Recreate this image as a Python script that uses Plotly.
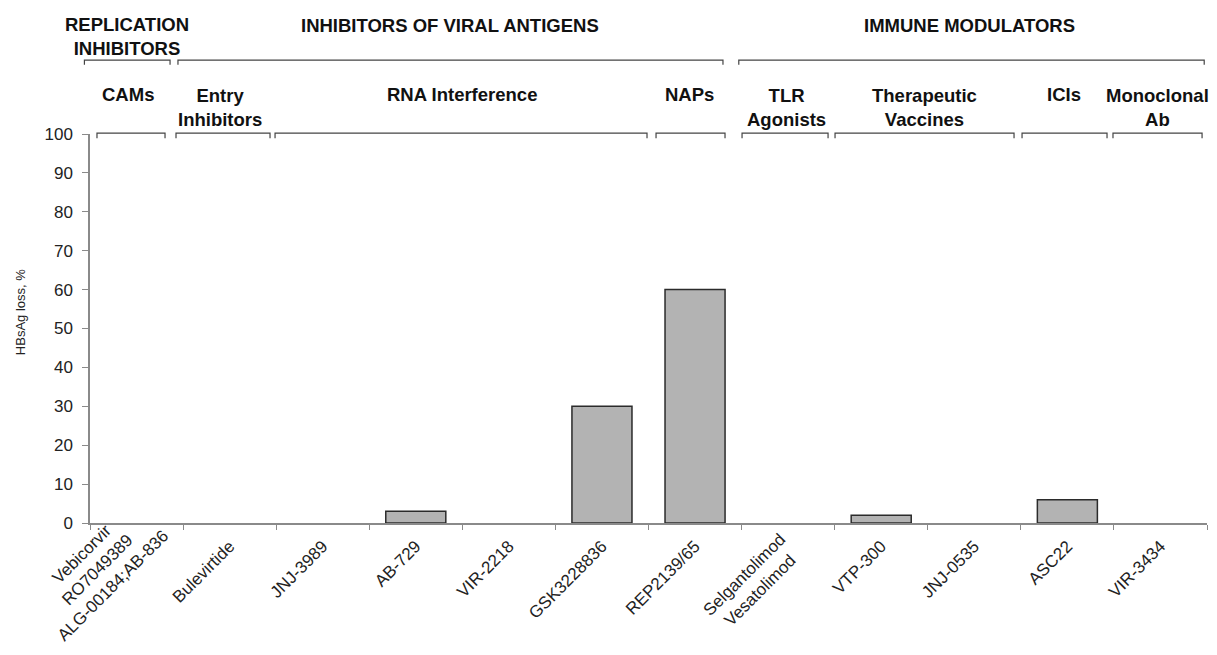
import plotly.graph_objects as go

# ---- data ----
categories = [
    "Vebicorvir<br>RO7049389<br>ALG-00184;AB-836",
    "Bulevirtide",
    "JNJ-3989",
    "AB-729",
    "VIR-2218",
    "GSK3228836",
    "REP2139/65",
    "Selgantolimod<br>Vesatolimod",
    "VTP-300",
    "JNJ-0535",
    "ASC22",
    "VIR-3434",
]
hbsag_loss = [0, 0, 0, 3, 0, 30, 60, 0, 2, 0, 6, 0]
y_ticks = [0, 10, 20, 30, 40, 50, 60, 70, 80, 90, 100]

# class labels (text, center index, start index, end index)
top_groups = ["REPLICATION<br>INHIBITORS", "INHIBITORS OF VIRAL ANTIGENS", "IMMUNE MODULATORS"]
top_centers = [-0.10, 3.37, 8.95]
top_starts = [-0.56, 0.445, 6.47]
top_ends = [0.36, 6.30, 11.47]

sub_groups = ["CAMs", "Entry<br>Inhibitors", "RNA Interference", "NAPs",
              "TLR<br>Agonists", "Therapeutic<br>Vaccines", "ICIs", "Monoclonal<br>Ab"]
sub_centers = [-0.09, 0.90, 3.50, 5.94, 6.98, 8.47, 9.96, 10.97]
sub_starts = [-0.425, 0.424, 1.488, 5.581, 6.505, 7.504, 9.513, 10.49]
sub_ends = [0.306, 1.434, 5.484, 6.322, 7.429, 9.427, 10.426, 11.447]

FONT = "Arial, 'Liberation Sans', sans-serif"
n = len(categories)
positions = list(range(n))           # category slots on the x axis
boundaries = [i - 0.5 for i in range(n + 1)]

fig = go.Figure(
    go.Bar(
        x=positions,
        y=hbsag_loss,
        customdata=[c.replace("<br>", " / ") for c in categories],
        hovertemplate="%{customdata}: %{y}%<extra></extra>",
        marker=dict(color="#b3b3b3",
                    line=dict(color="#2b2b2b",
                              width=[1.5 if v > 0 else 0 for v in hbsag_loss])),
    )
)

def idx_to_paper(i):
    return (i + 0.5) / n

shapes = []
annotations = []

# top row brackets
for s, e in zip(top_starts, top_ends):
    x0, x1 = idx_to_paper(s), idx_to_paper(e)
    shapes.append(dict(type="path", xref="paper", yref="paper",
                       path=f"M {x0},1.178 L {x0},1.190 L {x1},1.190 L {x1},1.178",
                       line=dict(color="#444444", width=1.2)))
for t, c in zip(top_groups, top_centers):
    two = "<br>" in t
    annotations.append(dict(x=c, xref="x", y=1.251 if two else 1.279, yref="paper",
                            text=f"<b>{t}</b>", showarrow=False, yanchor="middle",
                            font=dict(family=FONT, size=18.5, color="#111111")))

# second row brackets
for s, e in zip(sub_starts, sub_ends):
    x0, x1 = idx_to_paper(s), idx_to_paper(e)
    shapes.append(dict(type="path", xref="paper", yref="paper",
                       path=f"M {x0},0.989 L {x0},1.002 L {x1},1.002 L {x1},0.989",
                       line=dict(color="#444444", width=1.2)))
for t, c in zip(sub_groups, sub_centers):
    two = "<br>" in t
    annotations.append(dict(x=c, xref="x", y=1.069 if two else 1.101, yref="paper",
                            text=f"<b>{t}</b>", showarrow=False, yanchor="middle",
                            font=dict(family=FONT, size=18.5, color="#111111")))

# multi-line category labels: drawn as rotated, centred text blocks
tick_text = []
for i, c in enumerate(categories):
    if "<br>" in c:
        tick_text.append("")
        nlines = c.count("<br>") + 1
        annotations.append(dict(x=i, xref="x", y=0, yref="paper",
                                xshift=-40 if nlines == 3 else -36,
                                yshift=-47 if nlines == 3 else -59,
                                text=c, textangle=-45, align="center",
                                xanchor="center", yanchor="middle", showarrow=False,
                                font=dict(family=FONT, size=17, color="#222222")))
    else:
        tick_text.append(c)

# y-axis title
annotations.append(dict(x=-0.0627, xref="paper", y=0.542, yref="paper",
                        xanchor="center", yanchor="middle",
                        text="HBsAg loss, %", textangle=-90, showarrow=False,
                        font=dict(family=FONT, size=13, color="#222222")))

# the page adds an 8px body margin, so the figure is 8px smaller than the window
fig.update_layout(
    width=1209, height=647,
    margin=dict(l=82, r=10, t=126, b=132, autoexpand=False),
    plot_bgcolor="white", paper_bgcolor="white",
    bargap=0.355,
    showlegend=False,
    font=dict(family=FONT, color="#222222"),
    shapes=shapes,
    annotations=annotations,
)
fig.update_xaxes(
    automargin=False,
    range=[-0.5, n - 0.5],
    tickmode="array", tickvals=positions, ticktext=tick_text,
    tickangle=-45,
    tickfont=dict(family=FONT, size=17, color="#222222"),
    showline=True, linecolor="#8a8a8a", linewidth=1.5,
    ticks="outside", ticklen=5, tickcolor="rgba(0,0,0,0)",
    minor=dict(tickmode="array", tickvals=boundaries, ticks="outside",
               ticklen=5, tickcolor="#8a8a8a", showgrid=False),
    showgrid=False, zeroline=False,
)
fig.update_yaxes(
    automargin=False,
    range=[0, 100],
    tickvals=y_ticks,
    tickfont=dict(family=FONT, size=17, color="#222222"),
    showline=True, linecolor="#8a8a8a", linewidth=1.5,
    ticks="outside", ticklen=6, tickcolor="#8a8a8a",
    ticklabelstandoff=6,
    showgrid=False, zeroline=False,
)

fig.write_html("out.html")
